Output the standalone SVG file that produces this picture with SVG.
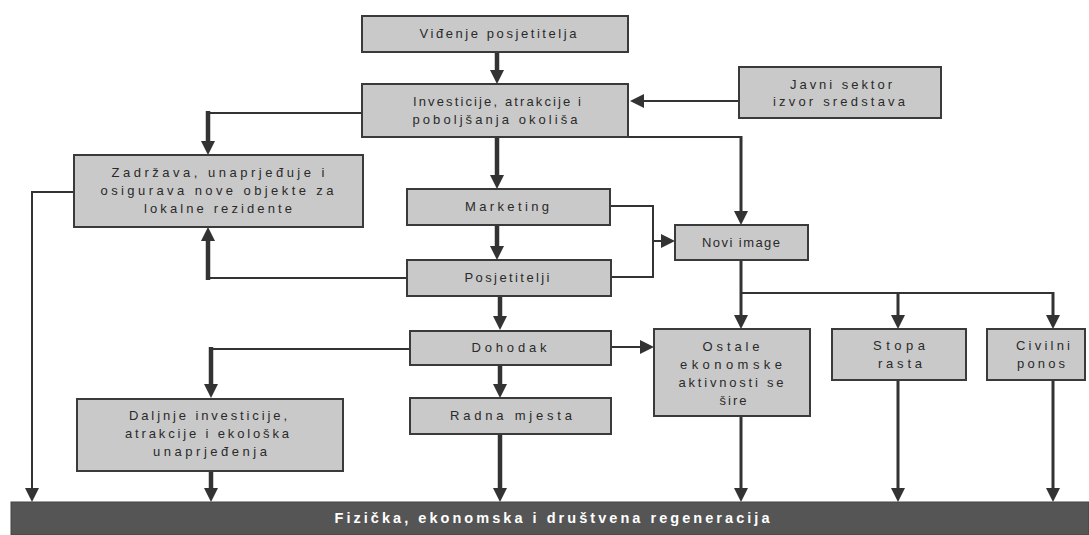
<svg xmlns="http://www.w3.org/2000/svg" width="1089" height="535" viewBox="0 0 1089 535">
<defs>
<marker id="ah" markerUnits="userSpaceOnUse" markerWidth="16" markerHeight="16" refX="6" refY="7" orient="auto">
<path d="M0,0 L14,7 L0,14 z" fill="#333"/>
</marker>
<style>
.box{fill:#c9c9c9;stroke:#3a3a3a;stroke-width:2}
.t{font-family:"Liberation Sans",Arial,sans-serif;font-size:13px;fill:#2a2a2a;text-anchor:middle}
.bt{font-family:"Liberation Sans",Arial,sans-serif;font-size:14.5px;font-weight:bold;fill:#fff;text-anchor:middle}
.thick{stroke:#333;stroke-width:4.5;fill:none}
.mid{stroke:#333;stroke-width:3;fill:none}
.thin{stroke:#333;stroke-width:2;fill:none}
.arr{marker-end:url(#ah)}
</style>
</defs>
<rect width="1089" height="535" fill="#fff"/>
<g id="connectors">
<line class="thick arr" x1="497" y1="52" x2="497" y2="76"/>
<line class="thick arr" x1="497" y1="137" x2="497" y2="181"/>
<line class="thick arr" x1="497" y1="225" x2="497" y2="252"/>
<line class="thick arr" x1="500" y1="296" x2="500" y2="322"/>
<line class="thick arr" x1="500" y1="366" x2="500" y2="390"/>
<line class="thick arr" x1="500" y1="434" x2="500" y2="494"/>
<line class="thin arr" x1="739" y1="101" x2="638" y2="101"/>
<polyline class="thin" points="362,113 208,113"/>
<line class="thick arr" x1="208" y1="111" x2="208" y2="147"/>
<polyline class="thin arr" points="74,192 32,192 32,494"/>
<polyline class="thin" points="407,278 208,278"/>
<line class="thick arr" x1="208" y1="280" x2="208" y2="235"/>
<polyline class="thin" points="628,137 741,137"/>
<line class="mid arr" x1="741" y1="136" x2="741" y2="217"/>
<polyline class="thin" points="610,206 653,206 653,277 611,277"/>
<line class="thin arr" x1="653" y1="241" x2="667" y2="241"/>
<line class="mid arr" x1="741" y1="260" x2="741" y2="321"/>
<polyline class="thin" points="741,293 1053,293"/>
<line class="mid arr" x1="898" y1="292" x2="898" y2="321"/>
<line class="mid arr" x1="1053" y1="292" x2="1053" y2="321"/>
<line class="thin arr" x1="611" y1="347" x2="646" y2="347"/>
<polyline class="thin" points="409,349 211,349"/>
<line class="thick arr" x1="211" y1="347" x2="211" y2="390"/>
<line class="thick arr" x1="211" y1="471" x2="211" y2="494"/>
<line class="mid arr" x1="741" y1="416" x2="741" y2="494"/>
<line class="mid arr" x1="898" y1="380" x2="898" y2="494"/>
<line class="mid arr" x1="1053" y1="380" x2="1053" y2="494"/>
</g>
<g id="n-vidjenje"><rect class="box" x="362" y="16" width="266" height="36"/><text class="t" x="498" y="38" textLength="157" lengthAdjust="spacing">Viđenje posjetitelja</text></g>
<g id="n-investicije"><rect class="box" x="362" y="84" width="266" height="53"/><text class="t" x="497" y="106" textLength="168" lengthAdjust="spacing">Investicije, atrakcije i</text><text class="t" x="495" y="124" textLength="165" lengthAdjust="spacing">poboljšanja okoliša</text></g>
<g id="n-javni"><rect class="box" x="739" y="67" width="202" height="51"/><text class="t" x="841" y="89" textLength="102" lengthAdjust="spacing">Javni sektor</text><text class="t" x="839" y="106" textLength="132" lengthAdjust="spacing">izvor sredstava</text></g>
<g id="n-zadrzava"><rect class="box" x="74" y="155" width="289" height="72"/><text class="t" x="218" y="177" textLength="213" lengthAdjust="spacing">Zadržava, unaprjeđuje  i</text><text class="t" x="217" y="195" textLength="233" lengthAdjust="spacing">osigurava nove objekte za</text><text class="t" x="218" y="213" textLength="148" lengthAdjust="spacing">lokalne rezidente</text></g>
<g id="n-marketing"><rect class="box" x="407" y="189" width="203" height="36"/><text class="t" x="507" y="211" textLength="84" lengthAdjust="spacing">Marketing</text></g>
<g id="n-novi"><rect class="box" x="675" y="225" width="133" height="35"/><text class="t" x="741" y="247" textLength="78" lengthAdjust="spacing">Novi image</text></g>
<g id="n-posjetitelji"><rect class="box" x="407" y="260" width="204" height="36"/><text class="t" x="507" y="282" textLength="85" lengthAdjust="spacing">Posjetitelji</text></g>
<g id="n-dohodak"><rect class="box" x="410" y="331" width="201" height="34"/><text class="t" x="509" y="352" textLength="75" lengthAdjust="spacing">Dohodak</text></g>
<g id="n-ostale"><rect class="box" x="654" y="329" width="156" height="87"/><text class="t" x="731" y="351" textLength="57" lengthAdjust="spacing">Ostale</text><text class="t" x="731" y="369" textLength="102" lengthAdjust="spacing">ekonomske</text><text class="t" x="731" y="387" textLength="105" lengthAdjust="spacing">aktivnosti se</text><text class="t" x="733" y="405" textLength="27" lengthAdjust="spacing">šire</text></g>
<g id="n-stopa"><rect class="box" x="832" y="329" width="134" height="51"/><text class="t" x="899" y="350" textLength="52" lengthAdjust="spacing">Stopa</text><text class="t" x="900" y="368" textLength="44" lengthAdjust="spacing">rasta</text></g>
<g id="n-civilni"><rect class="box" x="987" y="329" width="98" height="51"/><text class="t" x="1043" y="350" textLength="54" lengthAdjust="spacing">Civilni</text><text class="t" x="1041" y="368" textLength="48" lengthAdjust="spacing">ponos</text></g>
<g id="n-daljnje"><rect class="box" x="77" y="399" width="266" height="72"/><text class="t" x="208" y="420" textLength="158" lengthAdjust="spacing">Daljnje investicije,</text><text class="t" x="207" y="438" textLength="164" lengthAdjust="spacing">atrakcije i ekološka</text><text class="t" x="210" y="456" textLength="114" lengthAdjust="spacing">unaprjeđenja</text></g>
<g id="n-radna"><rect class="box" x="410" y="398" width="201" height="36"/><text class="t" x="511" y="420" textLength="122" lengthAdjust="spacing">Radna mjesta</text></g>
<g id="n-regeneracija"><rect x="11" y="502" width="1078" height="33" fill="#555" stroke="#444" stroke-width="1"/><text class="bt" x="552" y="523" textLength="435" lengthAdjust="spacing">Fizička, ekonomska i društvena regeneracija</text></g>
</svg>
